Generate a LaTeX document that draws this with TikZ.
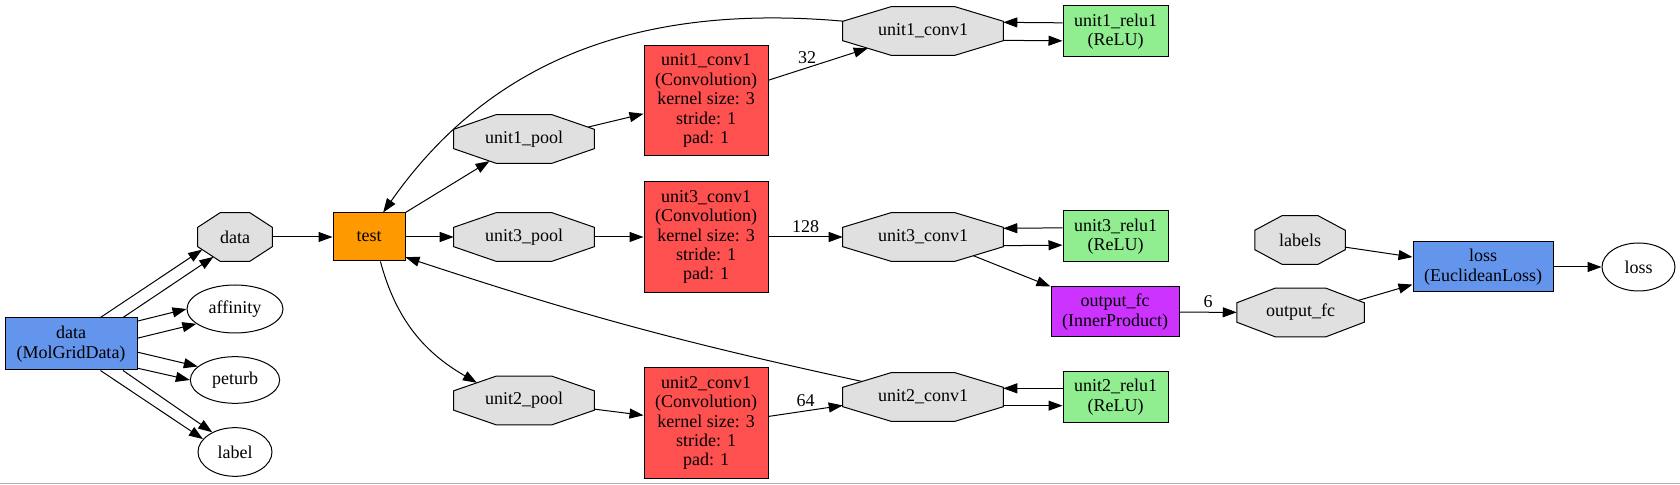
\documentclass[tikz,border=0pt]{standalone}
\usepackage{fontspec}
\setmainfont{Liberation Serif}
\usepackage{xcolor}
\usetikzlibrary{arrows.meta}
\usetikzlibrary{shapes.geometric}
\usetikzlibrary{calc}
\usetikzlibrary{backgrounds}

\definecolor{blobgray}{HTML}{E0E0E0}
\definecolor{convred}{HTML}{FF5050}
\definecolor{poolorange}{HTML}{FF9900}
\definecolor{fcpurple}{HTML}{CC33FF}
\definecolor{layerblue}{HTML}{6495ED}
\definecolor{relugreen}{HTML}{90EE90}

\tikzset{
  every node/.style={font=\fontsize{13.5}{14.6}\selectfont, inner sep=0pt},
  layerbox/.style={draw, rectangle, align=center, line width=0.75pt},
  blob/.style={minimum height=36pt, minimum width=#1},
  topell/.style={draw, ellipse, line width=0.75pt},
  conv/.style={layerbox, fill=convred, minimum width=93pt, minimum height=83pt},
  relu/.style={layerbox, fill=relugreen, minimum width=78.75pt, minimum height=38.25pt},
  link/.style={->, line width=0.75pt},
  elbl/.style={inner sep=2pt, above=1pt},
  >={Triangle[length=10.5pt,width=7.5pt]}
}

\begin{document}
\begin{tikzpicture}[x=0.75pt, y=0.75pt]
\useasboundingbox (0,0) rectangle (1680,485);

% inputs
\node (datalayer) at (71,141) [layerbox, fill=layerblue, minimum width=99pt, minimum height=39pt] {data\\(MolGridData)};
\node (dataout) at (235,248) [blob=55.5pt] {data};
\node (affinity) at (235,176) [topell, minimum width=72pt, minimum height=36pt] {affinity};
\node (peturb) at (235,105) [topell, minimum width=67pt, minimum height=35pt] {peturb};
\node (lbl) at (235,33) [topell, minimum width=55.5pt, minimum height=36.5pt] {label};
\node (test) at (369,248) [layerbox, fill=poolorange, minimum width=54pt, minimum height=36pt] {test};

% three units
\node (u1pool) at (524,346) [blob=105pt] {unit1\_pool};
\node (u3pool) at (524,248) [blob=105pt] {unit3\_pool};
\node (u2pool) at (524,84.5) [blob=105pt] {unit2\_pool};
\node (u1conv) at (706,384.5) [conv] {unit1\_conv1\\(Convolution)\\kernel size: 3\\stride: 1\\pad: 1};
\node (u3conv) at (706,248) [conv] {unit3\_conv1\\(Convolution)\\kernel size: 3\\stride: 1\\pad: 1};
\node (u2conv) at (706,62) [conv] {unit2\_conv1\\(Convolution)\\kernel size: 3\\stride: 1\\pad: 1};
\node (u1convout) at (923,454) [blob=120pt] {unit1\_conv1};
\node (u3convout) at (923,248) [blob=120pt] {unit3\_conv1};
\node (u2convout) at (923,88) [blob=120pt] {unit2\_conv1};
\node (u1relu) at (1115.5,453.5) [relu] {unit1\_relu1\\(ReLU)};
\node (u3relu) at (1115.5,248.5) [relu] {unit3\_relu1\\(ReLU)};
\node (u2relu) at (1115.5,88) [relu] {unit2\_relu1\\(ReLU)};

% output and loss
\node (fclayer) at (1115,173) [layerbox, fill=fcpurple, minimum width=96pt, minimum height=37.5pt] {output\_fc\\(InnerProduct)};
\node (fcout) at (1300.5,172.5) [blob=95.25pt] {output\_fc};
\node (labels) at (1300,245) [blob=67.5pt] {labels};
\node (losslayer) at (1483,218) [layerbox, fill=layerblue, minimum width=105pt, minimum height=37.5pt] {loss\\(EuclideanLoss)};
\node (lossout) at (1638.5,218) [topell, minimum width=54.75pt, minimum height=36pt] {loss};

% octagons behind the blob names
\begin{scope}[on background layer]
\foreach \b in {dataout,u1pool,u3pool,u2pool,u1convout,u3convout,u2convout,fcout,labels}{
  \coordinate (\b-1) at ($(\b.north west)!.3!(\b.north east)$);
  \coordinate (\b-2) at ($(\b.north east)!.3!(\b.north west)$);
  \coordinate (\b-3) at ($(\b.north east)!.3!(\b.south east)$);
  \coordinate (\b-4) at ($(\b.south east)!.3!(\b.north east)$);
  \coordinate (\b-5) at ($(\b.south east)!.3!(\b.south west)$);
  \coordinate (\b-6) at ($(\b.south west)!.3!(\b.south east)$);
  \coordinate (\b-7) at ($(\b.south west)!.3!(\b.north west)$);
  \coordinate (\b-8) at ($(\b.north west)!.3!(\b.south west)$);
  \draw[line width=0.75pt, fill=blobgray] (\b-1) -- (\b-2) -- (\b-3) -- (\b-4)
    -- (\b-5) -- (\b-6) -- (\b-7) -- (\b-8) -- cycle;
}
\end{scope}

\draw[link] (datalayer.42) to ($(dataout-7)!.2!(dataout-6)$);
\draw[link] (datalayer.27) to ($(dataout-7)!.7!(dataout-6)$);
\draw[link] (datalayer.19) to (affinity.180);
\draw[link] (datalayer.5) to (affinity.201);
\draw[link] (datalayer.-7) to (peturb.160);
\draw[link] (datalayer.-20) to (peturb.180);
\draw[link] (datalayer.-42) to (lbl.158);
\draw[link] (datalayer.-27) to (lbl.139);
\draw[link] (dataout) to (test);

\draw[link] (test.north east) to ($(u1pool-7)!.85!(u1pool-6)$);
\draw[link] (test) to (u3pool);
\draw[link] (test.-65) to[out=-75, in=150] ($(u2pool-8)!.55!(u2pool-1)$);

\draw[link] ($(u1pool-2)!.85!(u1pool-3)$) to (u1conv.192);
\draw[link] (u3pool) to (u3conv);
\draw[link] (u2pool.-7) to (u2conv.173);
\draw[link] (u1conv.18) to node[elbl, pos=.39] {32} ($(u1convout-7)!.52!(u1convout-6)$);
\draw[link] (u3conv) to node[elbl] {128} (u3convout);
\draw[link] (u2conv.6) to node[elbl] {64} (u2convout.186);

\draw[link] ([yshift=-7pt]u1convout.east) to ([yshift=-7pt]u1relu.west);
\draw[link] ([yshift=6.5pt]u1relu.west) to ([yshift=6.5pt]u1convout.east);
\draw[link] ([yshift=-6.5pt]u3convout.east) to ([yshift=-6.5pt]u3relu.west);
\draw[link] ([yshift=6.5pt]u3relu.west) to ([yshift=6.5pt]u3convout.east);
\draw[link] ([yshift=-6.5pt]u2convout.east) to ([yshift=-6.5pt]u2relu.west);
\draw[link] ([yshift=6.5pt]u2relu.west) to ([yshift=6.5pt]u2convout.east);

\draw[link] (u1convout.173) to[out=175, in=55] (test.60);
\draw[link] ($(u2convout-8)!.4!(u2convout-1)$) to[bend left=3] (test.-29);

\draw[link] ($(u3convout-4)!.62!(u3convout-5)$) to (fclayer.north west);
\draw[link] (fclayer) to node[elbl] {6} (fcout);
\draw[link] ($(fcout-2)!.84!(fcout-3)$) to (losslayer.194);
\draw[link] (labels.-9) to (losslayer.172);
\draw[link] (losslayer) to (lossout);

\draw[gray!60, line width=0.75pt] (0,1) -- (1680,1);
\end{tikzpicture}
\end{document}
